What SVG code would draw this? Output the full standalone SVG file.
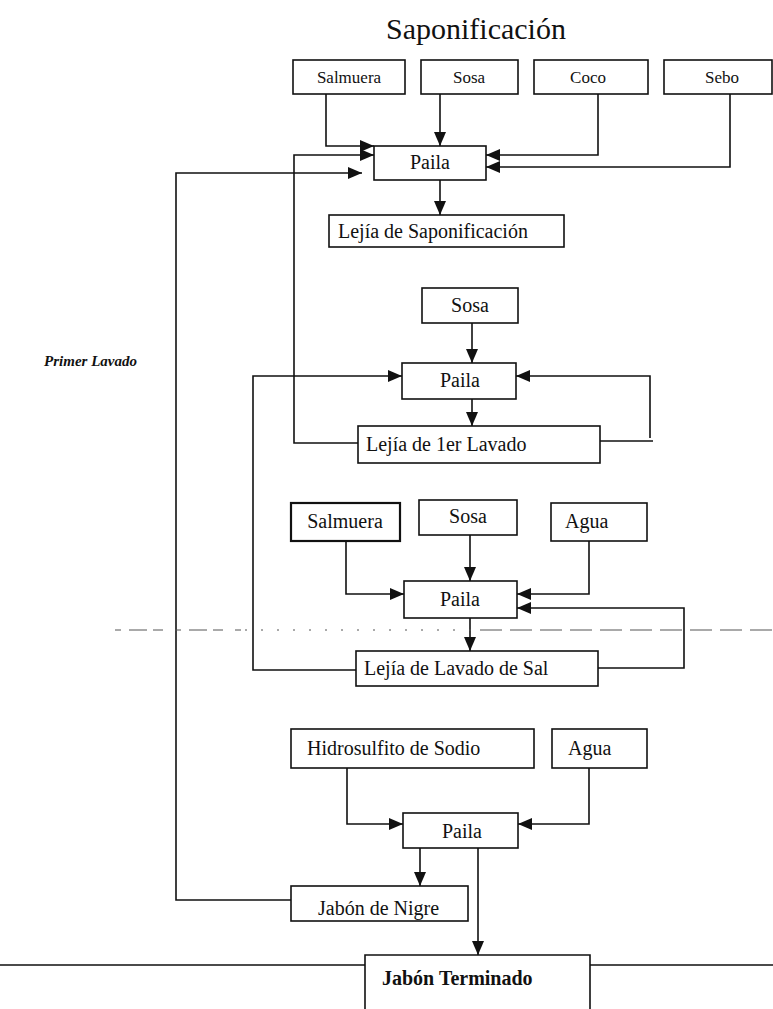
<svg xmlns="http://www.w3.org/2000/svg" width="773" height="1009" viewBox="0 0 773 1009">
<defs>
<marker id="ah" viewBox="0 0 14 12" refX="14" refY="6" markerWidth="14" markerHeight="12" markerUnits="userSpaceOnUse" orient="auto">
<path d="M0,0 L14,6 L0,12 z" fill="#111"/>
</marker>
</defs>
<style>
.box{fill:#fff;stroke:#111;stroke-width:1.6}
.t{font-family:"Liberation Serif","Times New Roman",serif;font-size:20px;fill:#111}
.s{font-size:17px}
.m{text-anchor:middle}
.c{fill:none;stroke:#111;stroke-width:1.6}
.a{marker-end:url(#ah)}
.d{fill:none;stroke:#555;stroke-width:1}
</style>
<rect width="773" height="1009" fill="#fff"/>
<text class="t m" x="476" y="39" style="font-size:30px">Saponificación</text>
<text class="t" x="137" y="366" text-anchor="end" style="font-size:15px;font-weight:bold;font-style:italic">Primer Lavado</text>

<g id="connectors">
<path class="c a" d="M326,94 V146 H374"/>
<path class="c a" d="M440,94 V146"/>
<path class="c a" d="M598,94 V155 H486"/>
<path class="c a" d="M730,94 V167 H486"/>
<path class="c a" d="M440,180 V215"/>
<path class="c a" d="M358,443 H294 V155 H374"/>
<path class="c a" d="M291,900 H176 V173 H362"/>
<path class="c a" d="M472,323 V363"/>
<path class="c a" d="M472,399 V426"/>
<path class="c a" d="M356,670 H253 V376 H402"/>
<path class="c" d="M600,441 H653"/>
<path class="c a" d="M650,438 V376 H516"/>
<path class="c a" d="M346,541 V594 H404"/>
<path class="c a" d="M470,535 V581"/>
<path class="c a" d="M589,541 V594 H517"/>
<path class="c a" d="M598,668 H684 V608 H517"/>
<path class="c a" d="M470,618 V651"/>
<path class="c a" d="M347,768 V824 H403"/>
<path class="c a" d="M589,768 V824 H518"/>
<path class="c a" d="M420,848 V886"/>
<path class="c a" d="M478,848 V955"/>
<path class="c" d="M0,965 H365 M590,965 H773"/>
<path class="d" d="M115,630 H245" stroke-dasharray="6 8 18 6 10 12"/>
<path class="d" d="M245,630 H480" stroke-dasharray="2 14" stroke="#999"/>
<path class="d" d="M480,630 H773" stroke-dasharray="22 8"/>
</g>

<g id="n-salmuera1"><rect class="box" x="293" y="60" width="112" height="34"/><text class="t s m" x="349" y="83">Salmuera</text></g>
<g id="n-sosa1"><rect class="box" x="421" y="60" width="97" height="34"/><text class="t s m" x="469" y="83">Sosa</text></g>
<g id="n-coco"><rect class="box" x="534" y="60" width="114" height="34"/><text class="t s m" x="588" y="83">Coco</text></g>
<g id="n-sebo"><rect class="box" x="664" y="60" width="108" height="34"/><text class="t s m" x="722" y="83">Sebo</text></g>
<g id="n-paila1"><rect class="box" x="374" y="146" width="112" height="34"/><text class="t m" x="430" y="169">Paila</text></g>
<g id="n-lejia1"><rect class="box" x="329" y="215" width="235" height="32"/><text class="t" x="338" y="238">Lejía de Saponificación</text></g>

<g id="n-sosa2"><rect class="box" x="422" y="288" width="96" height="35"/><text class="t m" x="470" y="312">Sosa</text></g>
<g id="n-paila2"><rect class="box" x="402" y="363" width="114" height="36"/><text class="t m" x="460" y="387">Paila</text></g>
<g id="n-lejia2"><rect class="box" x="358" y="426" width="242" height="37"/><text class="t" x="366" y="451">Lejía de 1er Lavado</text></g>

<g id="n-salmuera3"><rect class="box" x="291" y="503" width="109" height="38" style="stroke-width:2.2"/><text class="t m" x="345" y="528">Salmuera</text></g>
<g id="n-sosa3"><rect class="box" x="419" y="500" width="98" height="35"/><text class="t m" x="468" y="523">Sosa</text></g>
<g id="n-agua3"><rect class="box" x="551" y="503" width="96" height="38"/><text class="t" x="565" y="528">Agua</text></g>
<g id="n-paila3"><rect class="box" x="404" y="581" width="113" height="37"/><text class="t m" x="460" y="606">Paila</text></g>
<g id="n-lejia3"><rect class="box" x="356" y="651" width="242" height="35"/><text class="t" x="364" y="675">Lejía de Lavado de Sal</text></g>

<g id="n-hidro"><rect class="box" x="291" y="729" width="243" height="39"/><text class="t" x="307" y="755">Hidrosulfito de Sodio</text></g>
<g id="n-agua4"><rect class="box" x="552" y="729" width="95" height="39"/><text class="t" x="568" y="755">Agua</text></g>
<g id="n-paila4"><rect class="box" x="403" y="813" width="115" height="35"/><text class="t m" x="462" y="838">Paila</text></g>
<g id="n-nigre"><rect class="box" x="291" y="886" width="177" height="35"/><text class="t" x="318" y="915">Jabón de Nigre</text></g>
<g id="n-terminado"><path class="c" d="M365,1009 V955 H590 V1009"/><text class="t" x="382" y="985" style="font-weight:bold;font-size:20px">Jabón Terminado</text></g>
</svg>
